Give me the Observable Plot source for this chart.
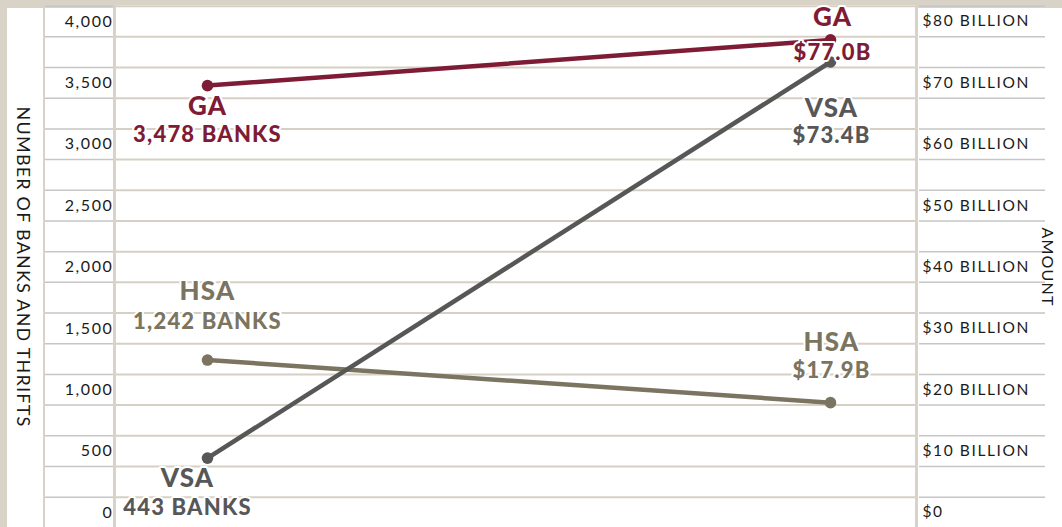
<!DOCTYPE html>
<html>
<head>
<meta charset="utf-8">
<script src="https://cdn.jsdelivr.net/npm/d3@7"></script>
<script src="https://cdn.jsdelivr.net/npm/@observablehq/plot@0.6"></script>
<style>
  html, body { margin: 0; padding: 0; background: #d9d3c7; }
  #wrap { position: relative; width: 1062px; height: 527px; overflow: hidden; }
  .panel { position: absolute; background: #ffffff; bottom: 0; }
  #chart { position: absolute; left: 0; top: 0; }
</style>
</head>
<body>
<div id="wrap">
  <div class="panel" style="left:7px;top:8px;width:36px"></div>
  <div class="panel" style="left:45px;top:8px;width:68px"></div>
  <div class="panel" style="left:116px;top:5px;width:799px"></div>
  <div class="panel" style="left:918px;top:8px;width:144px"></div>
  <div id="chart"></div>
</div>
<script>
// ---- data ----
const series = ["GA", "HSA", "VSA"];
const banks = [3478, 1242, 443];          // number of banks and thrifts
const amountsBillion = [77.0, 17.9, 73.4]; // amount, $ billion
const sides = ["NUMBER OF BANKS AND THRIFTS", "AMOUNT"];
const bankTicks = [0, 500, 1000, 1500, 2000, 2500, 3000, 3500, 4000];
const amountTicks = [0, 10, 20, 30, 40, 50, 60, 70, 80];
const seriesColors = ["#7e1c36", "#7b7460", "#575757"];

// both axes share one vertical scale: 4,000 banks <-> $80 billion
const ratio = bankTicks[bankTicks.length - 1] / amountTicks[amountTicks.length - 1];
const gridValues = d3.range(125, 4126, 250);

const rows = series.flatMap((s, i) => [
  {series: s, side: sides[0], value: banks[i], label: `${d3.format(",")(banks[i])} BANKS`},
  {series: s, side: sides[1], value: amountsBillion[i] * ratio, label: `$${amountsBillion[i].toFixed(1)}B`}
]);

// label offsets (style) per series/side
const offsets = {
  "GA|0":  {dx: 0,   name: 21,  value: 49},
  "HSA|0": {dx: 0,   name: -68, value: -38},
  "VSA|0": {dx: -20, name: 21,  value: 50},
  "GA|1":  {dx: 2,   name: -22, value: 13},
  "VSA|1": {dx: 1,   name: 47,  value: 74},
  "HSA|1": {dx: 1,   name: -60, value: -32}
};

const labelMarks = Object.entries(offsets).flatMap(([key, o]) => {
  const [s, k] = key.split("|");
  const subset = rows.filter(d => d.series === s && d.side === sides[+k]);
  const common = {x: "side", y: "value", fill: "series", dx: o.dx, fontWeight: 900,
                  stroke: "white", strokeWidth: 4, strokeLinejoin: "round"};
  return [
    Plot.text(subset, {...common, text: "series", dy: o.name, fontSize: 26}),
    Plot.text(subset, {...common, text: "label", dy: o.value, fontSize: 22})
  ];
});

const chart = Plot.plot({
  width: 1062,
  height: 527,
  marginLeft: 116,
  marginRight: 147,
  marginTop: 21,
  marginBottom: 15,
  style: {background: "transparent", overflow: "visible", fontFamily: "Lato, 'Open Sans', sans-serif"},
  x: {type: "point", domain: sides, padding: 0, insetLeft: 91, insetRight: 85, axis: null},
  y: {domain: [0, 4000]},
  color: {domain: series, range: seriesColors},
  marks: [
    Plot.ruleY(gridValues, {stroke: "#d6d0c4", strokeWidth: 2}),
    Plot.ruleY(gridValues, {stroke: "#c6c6c6", strokeWidth: 1.5, insetLeft: -71, insetRight: 802}),
    Plot.ruleY(gridValues, {stroke: "#c6c6c6", strokeWidth: 1.5, insetLeft: 803, insetRight: -130}),
    Plot.axisY(bankTicks, {anchor: "left", tickSize: 0, tickPadding: 3, label: null,
      tickFormat: d3.format(","), fontSize: 16, fill: "#1a1a1a"}),
    Plot.axisY(amountTicks.map(v => v * ratio), {anchor: "right", tickSize: 0, tickPadding: 7, label: null,
      tickFormat: v => v === 0 ? "$0" : `$${v / ratio} BILLION`, fontSize: 15.5, fill: "#1a1a1a"}),
    Plot.text([sides[0]], {frameAnchor: "left", dx: -94, rotate: 90, textAnchor: "middle",
      lineAnchor: "middle", fontSize: 18, fill: "#1a1a1a"}),
    Plot.text([sides[1]], {frameAnchor: "right", dx: 132, rotate: 90, textAnchor: "middle",
      lineAnchor: "middle", fontSize: 16, fill: "#1a1a1a"}),
    Plot.line(rows, {x: "side", y: "value", z: "series", stroke: "series", strokeWidth: 4.5}),
    Plot.dot(rows, {x: "side", y: "value", fill: "series", r: 5.8}),
    ...labelMarks
  ]
});

document.getElementById("chart").appendChild(chart);

// letter spacing to mimic the wide geometric typeface
const svg = d3.select(chart);
svg.selectAll('g[aria-label="y-axis tick label"] text').style("letter-spacing", "1.6px");
svg.selectAll('g[aria-label="text"] text').style("letter-spacing", "1.2px");
</script>
</body>
</html>
